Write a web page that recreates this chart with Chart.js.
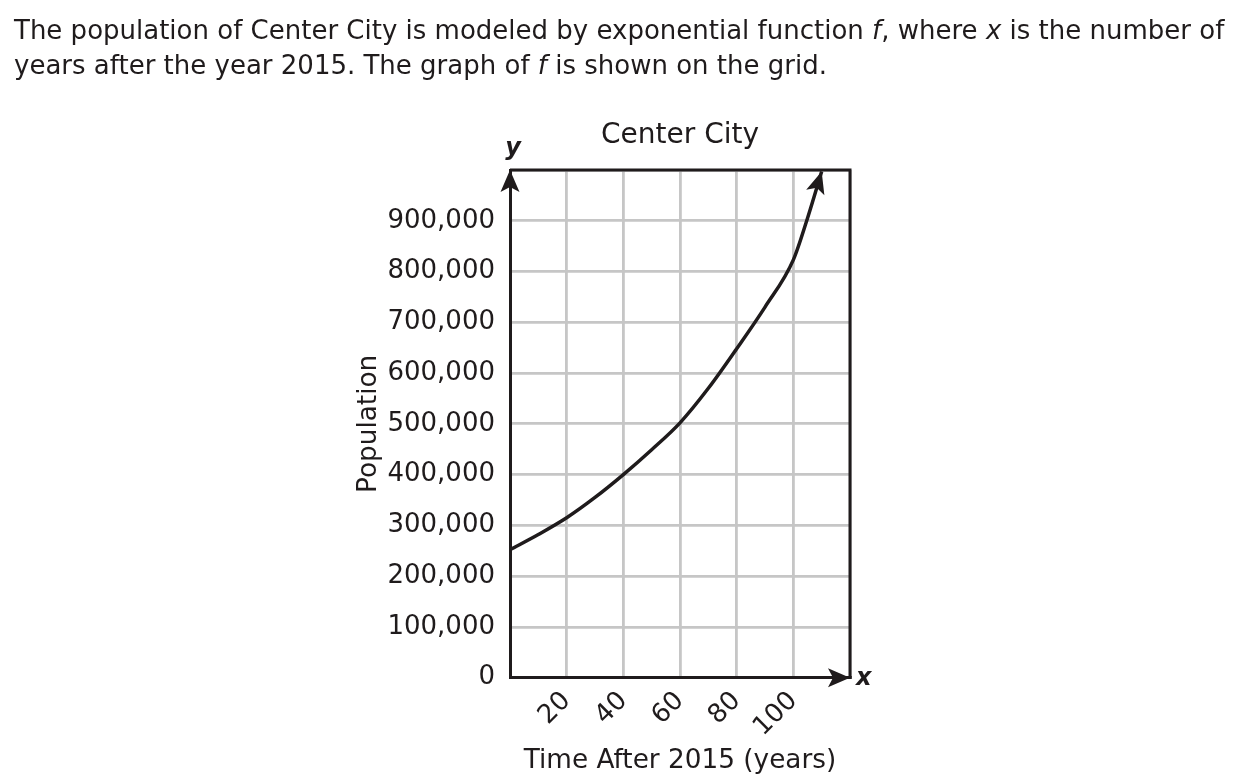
<!DOCTYPE html>
<html>
<head>
<meta charset="utf-8">
<title>Center City</title>
<script src="https://cdn.jsdelivr.net/npm/chart.js@4.4.0/dist/chart.umd.js"></script>
<style>
    html, body { margin: 0; padding: 0; background: #fff; overflow: hidden; }
    #prompt {
        position: absolute; left: 14px; top: 13px; z-index: 2;
        font-family: "DejaVu Sans", Verdana, sans-serif; font-size: 26px; line-height: 35px;
        color: #1f1b1c; white-space: nowrap;
    }
    #cc-chart { position: absolute; left: 0; top: 0; }
</style>
</head>
<body>
<div id="prompt">The population of Center City is modeled by exponential function <i>f</i>, where <i>x</i> is the number of<br>years after the year 2015. The graph of <i>f</i> is shown on the grid.</div>
<canvas id="cc-chart" width="1236" height="784"></canvas>
<script>
// values (x = years after 2015, y = population)
const years = [0, 10, 20, 30, 40, 50, 60, 70, 80, 90, 100, 105, 110];
const population = [252000, 282000, 315000, 355000, 400000, 449000, 502000, 570000, 648000, 730000, 823000, 905000, 997000];
const xTickLabels = [20, 40, 60, 80, 100];
const yTickLabels = [0, 100000, 200000, 300000, 400000, 500000, 600000, 700000, 800000, 900000];

const INK = '#1f1b1c';
const FONT = '"DejaVu Sans", Verdana, sans-serif';

function arrowHead(ctx, x, y, ang, len = 22, half = 9.5, notch = 5) {
    ctx.save();
    ctx.translate(x, y);
    ctx.rotate(ang);
    ctx.beginPath();
    ctx.moveTo(0, 0);
    ctx.lineTo(-len, -half);
    ctx.lineTo(-len + notch, 0);
    ctx.lineTo(-len, half);
    ctx.closePath();
    ctx.fillStyle = INK;
    ctx.fill();
    ctx.restore();
}

// frame, axis arrows, curve arrow and the x / y letters
const decor = {
    id: 'decor',
    afterDraw(chart) {
        const { ctx, chartArea: a } = chart;
        ctx.save();
        ctx.strokeStyle = INK;
        ctx.lineWidth = 3;
        ctx.beginPath();
        ctx.moveTo(a.left, a.top);
        ctx.lineTo(a.right, a.top);
        ctx.lineTo(a.right, a.bottom);
        ctx.stroke();

        arrowHead(ctx, a.left, a.top, -Math.PI / 2);
        arrowHead(ctx, a.right, a.bottom, 0);

        const pts = chart.getDatasetMeta(0).data;
        const end = pts[pts.length - 1];
        const from = end.cp1x != null ? { x: end.cp1x, y: end.cp1y } : pts[pts.length - 2];
        arrowHead(ctx, end.x, end.y, Math.atan2(end.y - from.y, end.x - from.x));

        ctx.fillStyle = INK;
        ctx.font = `italic bold 24px ${FONT}`;
        ctx.textAlign = 'center';
        ctx.textBaseline = 'alphabetic';
        ctx.fillText('y', a.left + 3, a.top - 15);
        ctx.textAlign = 'left';
        ctx.fillText('x', a.right + 6, a.bottom + 7);
        ctx.restore();
    }
};

new Chart(document.getElementById('cc-chart'), {
    type: 'line',
    data: {
        datasets: [{
            data: years.map((x, i) => ({ x, y: population[i] })),
            borderColor: INK, borderWidth: 3.5, pointRadius: 0, fill: false,
            cubicInterpolationMode: 'monotone'
        }]
    },
    options: {
        responsive: false, animation: false,
        layout: { padding: { left: 0, right: 386, top: 0, bottom: 0 } },
        plugins: {
            legend: { display: false }, tooltip: { enabled: false },
            title: {
                display: true, text: 'Center City', fullSize: false, color: INK,
                font: { family: FONT, size: 28, weight: 'normal' },
                padding: { top: 119, bottom: 17.4 }
            }
        },
        scales: {
            x: {
                type: 'linear', min: 0, max: 120,
                afterFit: (s) => { s.height = 106.3; },
                grid: { color: '#c6c6c6', lineWidth: 2.8, drawTicks: false },
                border: { color: INK, width: 3 },
                ticks: {
                    stepSize: 20, autoSkip: false, minRotation: 45, maxRotation: 45, padding: 8,
                    color: INK, font: { family: FONT, size: 26 },
                    callback: (v) => xTickLabels.includes(v) ? String(v) : ''
                },
                title: {
                    display: true, text: 'Time After 2015 (years)', color: INK,
                    font: { family: FONT, size: 26.3 }, padding: { top: 0, bottom: 7 }
                }
            },
            y: {
                min: 0, max: 1000000,
                afterFit: (s) => { s.width = 510; },
                grid: { color: '#c6c6c6', lineWidth: 2.8, drawTicks: false },
                border: { color: INK, width: 3 },
                ticks: {
                    stepSize: 100000, padding: 15, color: INK, font: { family: FONT, size: 26 },
                    callback: (v) => yTickLabels.includes(v) ? v.toLocaleString('en-US') : ''
                },
                title: {
                    display: true, text: 'Population', color: INK,
                    font: { family: FONT, size: 26.3 }, padding: { top: 353, bottom: 0 }
                }
            }
        }
    },
    plugins: [decor]
});
</script>
</body>
</html>
